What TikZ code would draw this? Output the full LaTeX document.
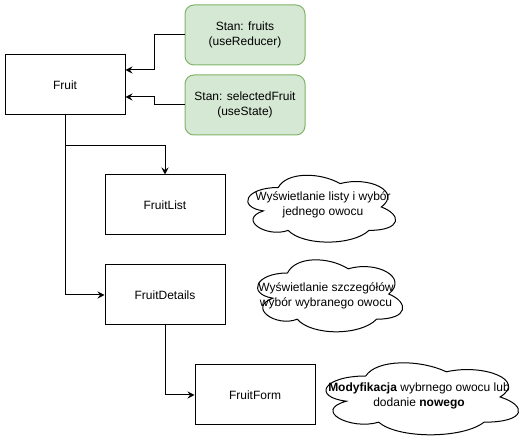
\documentclass[tikz,border=0pt]{standalone}
\usepackage{fontspec}
\setmainfont{Liberation Sans}
\usetikzlibrary{arrows.meta}
\definecolor{gfill}{HTML}{D5E8D4}
\definecolor{gdraw}{HTML}{82B366}
\newcommand\drawcloud[4]{%
  \draw[cloudline] ({#1+0.25*#3},{#2+0.25*#4})
    .. controls ({#1+0.05*#3},{#2+0.25*#4}) and ({#1},{#2+0.5*#4}) .. ({#1+0.16*#3},{#2+0.55*#4})
    .. controls ({#1},{#2+0.66*#4}) and ({#1+0.18*#3},{#2+0.9*#4}) .. ({#1+0.31*#3},{#2+0.8*#4})
    .. controls ({#1+0.4*#3},{#2+#4}) and ({#1+0.7*#3},{#2+#4}) .. ({#1+0.8*#3},{#2+0.8*#4})
    .. controls ({#1+#3},{#2+0.8*#4}) and ({#1+#3},{#2+0.6*#4}) .. ({#1+0.875*#3},{#2+0.5*#4})
    .. controls ({#1+#3},{#2+0.3*#4}) and ({#1+0.8*#3},{#2+0.1*#4}) .. ({#1+0.625*#3},{#2+0.2*#4})
    .. controls ({#1+0.5*#3},{#2+0.05*#4}) and ({#1+0.3*#3},{#2+0.05*#4}) .. ({#1+0.25*#3},{#2+0.25*#4})
    -- cycle;}
\begin{document}
\begin{tikzpicture}[x=1pt,y=-1pt,
  txt/.style={font=\fontsize{12}{15}\selectfont},
  box/.style={txt, draw, line width=1pt, minimum width=120pt, minimum height=60pt, inner sep=0pt, align=center},
  state/.style={box, fill=gfill, draw=gdraw, rounded corners=9pt},
  note/.style={txt, align=center, inner sep=0pt},
  cloudline/.style={draw, line width=1pt, fill=white},
  arr/.style={line width=1pt, -{Stealth[length=7pt,width=7pt,inset=2.5pt]}}]
\useasboundingbox (0,0) rectangle (531,446);
\fill[white] (0,0) rectangle (531,446);

\node[box] (fruit) at (65,85) {Fruit};
\node[state] (fruits) at (245,35) {Stan: fruits\\(useReducer)};
\node[state] (sel) at (245,105) {Stan: selectedFruit\\(useState)};
\node[box] (list) at (165,205) {FruitList};
\node[box] (details) at (165,295) {FruitDetails};
\node[box] (form) at (255,395) {FruitForm};

\drawcloud{237}{168}{165}{78}
\drawcloud{247}{252}{162}{84}
\drawcloud{312}{355}{215}{84}

\node[note] (n1) at (323,205) {Wyświetlanie listy i wybór\\jednego owocu};
\node[note] (n2) at (326,295.5) {Wyświetlanie szczegółów\\wybór wybranego owocu};
\node[note] (n3) at (419,396) {\textbf{Modyfikacja} wybrnego owocu lub\\dodanie \textbf{nowego}};

\draw[arr] (fruits.west) -- ++(-30,0) |- ([yshift=15pt]fruit.east);
\draw[arr] (sel.west) -- ++(-30,0) |- ([yshift=-12pt]fruit.east);
\draw[arr] (fruit.south) -- ++(0,30) -| (list.north);
\draw[arr] (fruit.south) |- (details.west);
\draw[arr] (details.south) |- (form.west);
\end{tikzpicture}
\end{document}
